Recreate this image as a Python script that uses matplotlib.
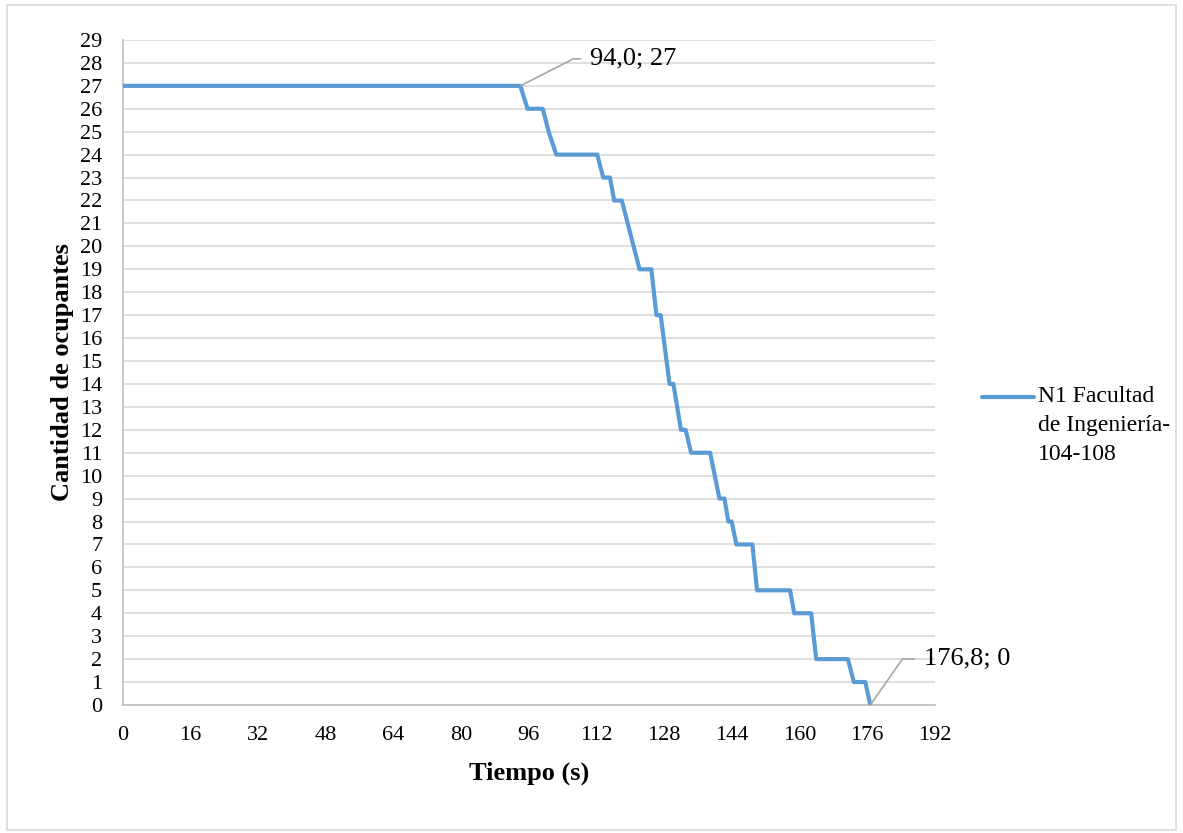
import numpy as np
import matplotlib
matplotlib.use("Agg")
import matplotlib.pyplot as plt
from matplotlib.patches import Rectangle
from matplotlib.lines import Line2D
from matplotlib.legend_handler import HandlerLine2D

# Evacuation curve: time (s) vs. remaining occupants
tiempo = [0.0, 94.0, 95.7, 99.3, 100.7, 102.5, 112.2, 113.6, 115.2, 116.2, 118.0,
          119.4, 122.2, 125.0, 126.2, 127.2, 129.3, 130.2, 132.0, 133.1, 134.4,
          138.9, 141.1, 142.3, 143.2, 144.0, 145.1, 148.9, 150.0, 157.8, 158.8,
          162.8, 164.0, 171.5, 172.9, 175.6, 176.8]
ocupantes = [27, 27, 26, 26, 25, 24, 24, 23, 23, 22, 22,
             21, 19, 19, 17, 17, 14, 14, 12, 12, 11,
             11, 9, 9, 8, 8, 7, 7, 5, 5, 4,
             4, 2, 2, 1, 1, 0]
serie = "N1 Facultad\nde Ingeniería-\n104-108"
x_ticks = list(range(0, 193, 16))
y_ticks = list(range(0, 30))

SERIF = ["Liberation Serif", "DejaVu Serif"]
plt.rcParams["font.family"] = SERIF
plt.rcParams["font.serif"] = SERIF

LABEL_PT = 19
LEGEND_PT = 17
LINESPACING = 1.49


class HandlerFirstLine(HandlerLine2D):
    """Legend line drawn level with the first line of a multi-line label."""

    def __init__(self, shift, **kw):
        super().__init__(**kw)
        self.shift = shift

    def create_artists(self, legend, orig_handle, xdescent, ydescent,
                       width, height, fontsize, trans):
        artists = super().create_artists(legend, orig_handle, xdescent, ydescent,
                                         width, height, fontsize, trans)
        for a in artists:
            a.set_ydata(np.asarray(a.get_ydata(), dtype=float) + self.shift)
        return artists


fig = plt.figure(figsize=(11.83, 8.33), dpi=100)
fig.patches.append(Rectangle((0.006, 0.004), 0.988, 0.99, transform=fig.transFigure,
                             fill=False, edgecolor="#D9D9D9", linewidth=1.2))
ax = fig.add_axes([0.104, 0.1537, 0.686, 0.7983])

linea, = ax.plot(tiempo, ocupantes, color="#5B9BD5", linewidth=3.0,
                 solid_joinstyle="round", solid_capstyle="round", label=serie, zorder=3)

ax.set_xlim(0, 192)
ax.set_ylim(0, 29)
ax.set_xticks(x_ticks)
ax.set_yticks(y_ticks)
ax.tick_params(axis="both", length=0, labelsize=16)
ax.tick_params(axis="x", pad=15)
ax.tick_params(axis="y", pad=15)
ax.yaxis.grid(True, color="#D9D9D9", linewidth=1.2)
ax.set_axisbelow(True)
for side in ("top", "right"):
    ax.spines[side].set_visible(False)
for side in ("left", "bottom"):
    ax.spines[side].set_color("#BFBFBF")
    ax.spines[side].set_linewidth(1.2)

ax.set_xlabel("Tiempo (s)", fontsize=LABEL_PT, fontweight="bold", labelpad=12)
ax.set_ylabel("Cantidad de ocupantes", fontsize=LABEL_PT, fontweight="bold", labelpad=4)


# Data labels at the start of the descent and at the final point
def etiqueta(i, dx, dy, ang):
    ax.annotate(f"{tiempo[i]:.1f}".replace(".", ",") + f"; {ocupantes[i]}",
                xy=(tiempo[i], ocupantes[i]), xytext=(dx, dy),
                textcoords="offset pixels", ha="left", va="center", fontsize=LABEL_PT,
                annotation_clip=False,
                arrowprops=dict(arrowstyle="-", color="#A6A6A6", linewidth=1.2,
                                shrinkA=5, shrinkB=0, relpos=(0, 0.5),
                                connectionstyle=f"angle,angleA=0,angleB={ang},rad=0"))


etiqueta(1, 70, 27, 27)
etiqueta(len(tiempo) - 1, 54, 46, 55)

line_step_pt = 28.5 * 72 / 100  # one text line, in points
leg = ax.legend(handles=[linea], loc="center left", bbox_to_anchor=(0.8225, 0.489),
                bbox_transform=fig.transFigure, frameon=False,
                prop={"family": "Liberation Serif", "size": LEGEND_PT},
                handlelength=2.2, handletextpad=0.15, borderaxespad=0,
                handler_map={Line2D: HandlerFirstLine(line_step_pt)})
for t in leg.get_texts():
    t.set_fontfamily("Liberation Serif")
    t.set_linespacing(LINESPACING)

fig.savefig("out.png", dpi=100)
